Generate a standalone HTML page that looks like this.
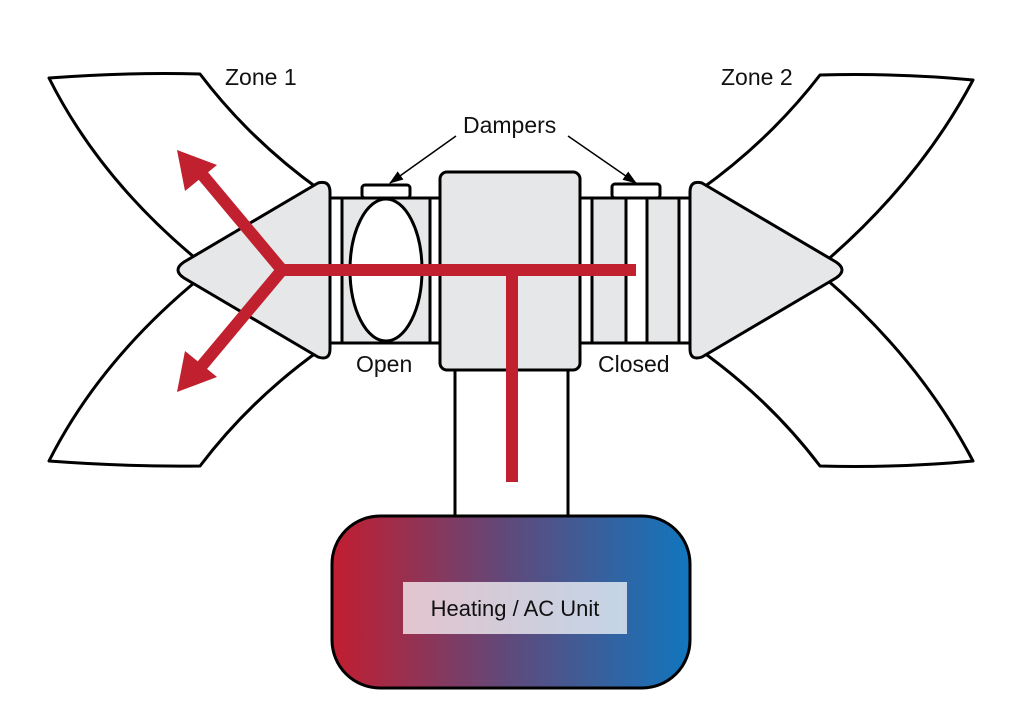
<!DOCTYPE html>
<html><head><meta charset="utf-8"><style>
html,body{margin:0;padding:0;background:#fff;}
svg{display:block;font-family:"Liberation Sans",sans-serif;}
</style></head><body>
<svg width="1024" height="724" viewBox="0 0 1024 724">
<defs>
<linearGradient id="g" x1="0" x2="1" y1="0" y2="0">
<stop offset="0" stop-color="#c21d30"/><stop offset="0.5" stop-color="#5e4a7c"/><stop offset="1" stop-color="#1176be"/>
</linearGradient>
<marker id="ah" markerWidth="14" markerHeight="10" refX="13" refY="5" orient="auto" markerUnits="userSpaceOnUse">
<path d="M0,0 L14,5 L0,10 z" fill="#000"/></marker>
</defs>
<g fill="#fff" stroke="#000" stroke-width="3" stroke-linejoin="round">
<path d="M49,78 Q130,72 200,74 Q250,140 320,190 L200,262 Q100,180 49,78 z"/>
<path d="M49,461 Q130,467 200,466 Q250,400 320,350 L200,278 Q100,360 49,461 z"/>
<path d="M973,80 Q900,73 820,75 Q770,140 700,190 L825,262 Q920,180 973,80 z"/>
<path d="M973,461 Q900,468 820,466 Q770,400 700,350 L825,278 Q920,360 973,461 z"/>
<rect x="455" y="360" width="113" height="160"/>
<rect x="330" y="198" width="112" height="145"/>
<rect x="342" y="198" width="88" height="145" fill="#e6e7e8"/>
<ellipse cx="386" cy="270" rx="36" ry="71"/>
<rect x="362" y="185" width="48" height="13" rx="3"/>
<rect x="578" y="198" width="112" height="145"/>
<rect x="592" y="198" width="34" height="145" fill="#e6e7e8"/>
<rect x="647" y="198" width="32" height="145" fill="#e6e7e8"/>
<rect x="612" y="184" width="48" height="14" rx="3"/>
<rect x="440" y="172" width="140" height="198" rx="7" fill="#e6e7e8"/>
<path d="M318,183 Q330,180 330,192 L330,349 Q330,361 318,357 L184,278 Q172,270 184,262 z" fill="#e6e7e8"/>
<path d="M702,183 Q690,180 690,192 L690,349 Q690,361 702,357 L836,278 Q848,270 836,262 z" fill="#e6e7e8"/>
<rect x="332" y="516" width="358" height="172" rx="48" fill="url(#g)"/>
</g>
<rect x="403" y="582" width="224" height="52" fill="#fff" opacity="0.72"/>
<text x="515" y="616" font-size="22" text-anchor="middle" fill="#111">Heating / AC Unit</text>
<g stroke="#c1202f" stroke-width="12" fill="none">
<path d="M282,270 L636,270"/>
<path d="M512,270 L512,482"/>
<path d="M282,270 L200,172"/>
<path d="M282,270 L200,368"/>
</g>
<path d="M177,150 L217,165 L185,191 z" fill="#c1202f"/>
<path d="M177,392 L217,377 L185,351 z" fill="#c1202f"/>
<g stroke="#000" stroke-width="1.5">
<line x1="456" y1="136" x2="390" y2="183" marker-end="url(#ah)"/>
<line x1="568" y1="136" x2="636" y2="183" marker-end="url(#ah)"/>
</g>
<g font-size="23" fill="#111">
<text x="225" y="85">Zone 1</text>
<text x="721" y="85">Zone 2</text>
<text x="463" y="133">Dampers</text>
<text x="356" y="372">Open</text>
<text x="598" y="372">Closed</text>
</g>
</svg>
</body></html>
